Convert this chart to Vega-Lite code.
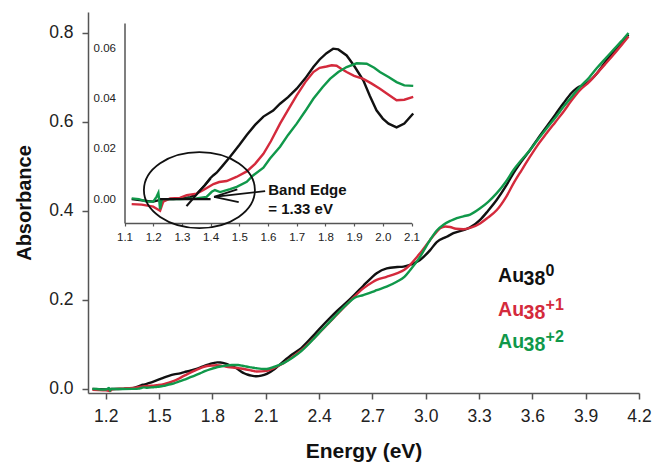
{
  "$schema": "https://vega.github.io/schema/vega-lite/v6.json",
  "width": 551,
  "height": 381,
  "autosize": {"type": "none"},
  "padding": {"left": 88, "top": 12, "right": 13, "bottom": 73},
  "background": "white",
  "config": {"view": {"stroke": null}, "font": "Liberation Sans"},
  "datasets": {
    "one": [{}],
    "spectra": [
      {"series":"0","energy":1.125,"absorbance":0.0},
      {"series":"0","energy":1.16,"absorbance":-0.0005},
      {"series":"0","energy":1.2,"absorbance":-0.001},
      {"series":"0","energy":1.235,"absorbance":0.0},
      {"series":"0","energy":1.27,"absorbance":0.0},
      {"series":"0","energy":1.3,"absorbance":0.0003},
      {"series":"0","energy":1.33,"absorbance":0.0008},
      {"series":"0","energy":1.351,"absorbance":0.002},
      {"series":"0","energy":1.38,"absorbance":0.0055},
      {"series":"0","energy":1.398,"absorbance":0.0082},
      {"series":"0","energy":1.41,"absorbance":0.0095},
      {"series":"0","energy":1.421,"absorbance":0.0105},
      {"series":"0","energy":1.44,"absorbance":0.013},
      {"series":"0","energy":1.468,"absorbance":0.0168},
      {"series":"0","energy":1.5,"absorbance":0.0215},
      {"series":"0","energy":1.526,"absorbance":0.0255},
      {"series":"0","energy":1.555,"absorbance":0.0295},
      {"series":"0","energy":1.584,"absorbance":0.0328},
      {"series":"0","energy":1.618,"absorbance":0.0352},
      {"series":"0","energy":1.642,"absorbance":0.0379},
      {"series":"0","energy":1.67,"absorbance":0.0405},
      {"series":"0","energy":1.7,"absorbance":0.0439},
      {"series":"0","energy":1.73,"absorbance":0.048},
      {"series":"0","energy":1.758,"absorbance":0.0525},
      {"series":"0","energy":1.78,"absorbance":0.0555},
      {"series":"0","energy":1.804,"absorbance":0.058},
      {"series":"0","energy":1.827,"absorbance":0.0598},
      {"series":"0","energy":1.845,"absorbance":0.0595},
      {"series":"0","energy":1.874,"absorbance":0.0571},
      {"series":"0","energy":1.9,"absorbance":0.053},
      {"series":"0","energy":1.932,"absorbance":0.0472},
      {"series":"0","energy":1.955,"absorbance":0.041},
      {"series":"0","energy":1.978,"absorbance":0.0353},
      {"series":"0","energy":2.0,"absorbance":0.032},
      {"series":"0","energy":2.02,"absorbance":0.03},
      {"series":"0","energy":2.048,"absorbance":0.0285},
      {"series":"0","energy":2.075,"absorbance":0.03},
      {"series":"0","energy":2.106,"absorbance":0.034},
      {"series":"0","energy":2.15,"absorbance":0.045},
      {"series":"0","energy":2.2,"absorbance":0.062},
      {"series":"0","energy":2.25,"absorbance":0.078},
      {"series":"0","energy":2.3,"absorbance":0.092},
      {"series":"0","energy":2.368,"absorbance":0.12},
      {"series":"0","energy":2.4,"absorbance":0.134},
      {"series":"0","energy":2.462,"absorbance":0.16},
      {"series":"0","energy":2.5,"absorbance":0.175},
      {"series":"0","energy":2.556,"absorbance":0.195},
      {"series":"0","energy":2.6,"absorbance":0.212},
      {"series":"0","energy":2.649,"absorbance":0.232},
      {"series":"0","energy":2.7,"absorbance":0.252},
      {"series":"0","energy":2.724,"absorbance":0.26},
      {"series":"0","energy":2.781,"absorbance":0.271},
      {"series":"0","energy":2.84,"absorbance":0.274},
      {"series":"0","energy":2.875,"absorbance":0.275},
      {"series":"0","energy":2.912,"absorbance":0.279},
      {"series":"0","energy":2.968,"absorbance":0.29},
      {"series":"0","energy":3.025,"absorbance":0.312},
      {"series":"0","energy":3.062,"absorbance":0.33},
      {"series":"0","energy":3.118,"absorbance":0.342},
      {"series":"0","energy":3.156,"absorbance":0.35},
      {"series":"0","energy":3.212,"absorbance":0.357},
      {"series":"0","energy":3.25,"absorbance":0.363},
      {"series":"0","energy":3.306,"absorbance":0.38},
      {"series":"0","energy":3.35,"absorbance":0.4},
      {"series":"0","energy":3.4,"absorbance":0.425},
      {"series":"0","energy":3.45,"absorbance":0.455},
      {"series":"0","energy":3.494,"absorbance":0.485},
      {"series":"0","energy":3.54,"absorbance":0.512},
      {"series":"0","energy":3.587,"absorbance":0.537},
      {"series":"0","energy":3.63,"absorbance":0.562},
      {"series":"0","energy":3.681,"absorbance":0.59},
      {"series":"0","energy":3.73,"absorbance":0.617},
      {"series":"0","energy":3.775,"absorbance":0.642},
      {"series":"0","energy":3.82,"absorbance":0.665},
      {"series":"0","energy":3.85,"absorbance":0.676},
      {"series":"0","energy":3.906,"absorbance":0.687},
      {"series":"0","energy":3.963,"absorbance":0.709},
      {"series":"0","energy":4.019,"absorbance":0.739},
      {"series":"0","energy":4.075,"absorbance":0.766},
      {"series":"0","energy":4.141,"absorbance":0.796},

      {"series":"+1","energy":1.125,"absorbance":-0.002},
      {"series":"+1","energy":1.16,"absorbance":-0.0022},
      {"series":"+1","energy":1.2,"absorbance":-0.003},
      {"series":"+1","energy":1.215,"absorbance":-0.004},
      {"series":"+1","energy":1.224,"absorbance":-0.0046},
      {"series":"+1","energy":1.235,"absorbance":-0.001},
      {"series":"+1","energy":1.259,"absorbance":0.0003},
      {"series":"+1","energy":1.293,"absorbance":0.0005},
      {"series":"+1","energy":1.317,"absorbance":0.0016},
      {"series":"+1","energy":1.351,"absorbance":0.0022},
      {"series":"+1","energy":1.375,"absorbance":0.0036},
      {"series":"+1","energy":1.41,"absorbance":0.006},
      {"series":"+1","energy":1.43,"absorbance":0.0068},
      {"series":"+1","energy":1.456,"absorbance":0.0072},
      {"series":"+1","energy":1.49,"absorbance":0.0088},
      {"series":"+1","energy":1.526,"absorbance":0.011},
      {"series":"+1","energy":1.555,"absorbance":0.014},
      {"series":"+1","energy":1.584,"absorbance":0.018},
      {"series":"+1","energy":1.61,"absorbance":0.023},
      {"series":"+1","energy":1.642,"absorbance":0.03},
      {"series":"+1","energy":1.67,"absorbance":0.0355},
      {"series":"+1","energy":1.7,"absorbance":0.0412},
      {"series":"+1","energy":1.73,"absorbance":0.0465},
      {"series":"+1","energy":1.758,"absorbance":0.0505},
      {"series":"+1","energy":1.78,"absorbance":0.0522},
      {"series":"+1","energy":1.804,"absorbance":0.0527},
      {"series":"+1","energy":1.822,"absorbance":0.0532},
      {"series":"+1","energy":1.839,"absorbance":0.053},
      {"series":"+1","energy":1.855,"absorbance":0.0518},
      {"series":"+1","energy":1.874,"absorbance":0.0505},
      {"series":"+1","energy":1.9,"absorbance":0.049},
      {"series":"+1","energy":1.932,"absorbance":0.0478},
      {"series":"+1","energy":1.96,"absorbance":0.046},
      {"series":"+1","energy":1.99,"absorbance":0.0439},
      {"series":"+1","energy":2.02,"absorbance":0.0415},
      {"series":"+1","energy":2.048,"absorbance":0.0393},
      {"series":"+1","energy":2.075,"absorbance":0.0395},
      {"series":"+1","energy":2.106,"absorbance":0.0406},
      {"series":"+1","energy":2.15,"absorbance":0.048},
      {"series":"+1","energy":2.2,"absorbance":0.058},
      {"series":"+1","energy":2.25,"absorbance":0.072},
      {"series":"+1","energy":2.3,"absorbance":0.087},
      {"series":"+1","energy":2.368,"absorbance":0.113},
      {"series":"+1","energy":2.4,"absorbance":0.126},
      {"series":"+1","energy":2.462,"absorbance":0.151},
      {"series":"+1","energy":2.5,"absorbance":0.167},
      {"series":"+1","energy":2.556,"absorbance":0.19},
      {"series":"+1","energy":2.6,"absorbance":0.208},
      {"series":"+1","energy":2.649,"absorbance":0.226},
      {"series":"+1","energy":2.7,"absorbance":0.24},
      {"series":"+1","energy":2.724,"absorbance":0.245},
      {"series":"+1","energy":2.78,"absorbance":0.252},
      {"series":"+1","energy":2.837,"absorbance":0.26},
      {"series":"+1","energy":2.88,"absorbance":0.268},
      {"series":"+1","energy":2.912,"absorbance":0.279},
      {"series":"+1","energy":2.968,"absorbance":0.305},
      {"series":"+1","energy":3.025,"absorbance":0.335},
      {"series":"+1","energy":3.06,"absorbance":0.352},
      {"series":"+1","energy":3.081,"absorbance":0.361},
      {"series":"+1","energy":3.11,"absorbance":0.365},
      {"series":"+1","energy":3.137,"absorbance":0.364},
      {"series":"+1","energy":3.17,"absorbance":0.36},
      {"series":"+1","energy":3.212,"absorbance":0.359},
      {"series":"+1","energy":3.25,"absorbance":0.362},
      {"series":"+1","energy":3.306,"absorbance":0.372},
      {"series":"+1","energy":3.35,"absorbance":0.385},
      {"series":"+1","energy":3.4,"absorbance":0.402},
      {"series":"+1","energy":3.45,"absorbance":0.43},
      {"series":"+1","energy":3.494,"absorbance":0.462},
      {"series":"+1","energy":3.54,"absorbance":0.492},
      {"series":"+1","energy":3.587,"absorbance":0.522},
      {"series":"+1","energy":3.63,"absorbance":0.548},
      {"series":"+1","energy":3.681,"absorbance":0.575},
      {"series":"+1","energy":3.73,"absorbance":0.6},
      {"series":"+1","energy":3.775,"absorbance":0.623},
      {"series":"+1","energy":3.82,"absorbance":0.648},
      {"series":"+1","energy":3.869,"absorbance":0.672},
      {"series":"+1","energy":3.92,"absorbance":0.69},
      {"series":"+1","energy":3.963,"absorbance":0.709},
      {"series":"+1","energy":4.01,"absorbance":0.73},
      {"series":"+1","energy":4.056,"absorbance":0.751},
      {"series":"+1","energy":4.1,"absorbance":0.772},
      {"series":"+1","energy":4.141,"absorbance":0.792},

      {"series":"+2","energy":1.125,"absorbance":0.0003},
      {"series":"+2","energy":1.15,"absorbance":0.0},
      {"series":"+2","energy":1.177,"absorbance":-0.001},
      {"series":"+2","energy":1.2,"absorbance":-0.001},
      {"series":"+2","energy":1.212,"absorbance":0.001},
      {"series":"+2","energy":1.218,"absorbance":0.0025},
      {"series":"+2","energy":1.221,"absorbance":-0.0005},
      {"series":"+2","energy":1.224,"absorbance":-0.004},
      {"series":"+2","energy":1.23,"absorbance":0.0},
      {"series":"+2","energy":1.26,"absorbance":0.0},
      {"series":"+2","energy":1.293,"absorbance":0.0},
      {"series":"+2","energy":1.35,"absorbance":0.0003},
      {"series":"+2","energy":1.386,"absorbance":0.0009},
      {"series":"+2","energy":1.404,"absorbance":0.0029},
      {"series":"+2","energy":1.415,"absorbance":0.0036},
      {"series":"+2","energy":1.433,"absorbance":0.0028},
      {"series":"+2","energy":1.468,"absorbance":0.004},
      {"series":"+2","energy":1.491,"absorbance":0.0049},
      {"series":"+2","energy":1.526,"absorbance":0.0069},
      {"series":"+2","energy":1.549,"absorbance":0.0095},
      {"series":"+2","energy":1.584,"absorbance":0.0125},
      {"series":"+2","energy":1.607,"absorbance":0.0161},
      {"series":"+2","energy":1.642,"absorbance":0.0208},
      {"series":"+2","energy":1.67,"absorbance":0.0255},
      {"series":"+2","energy":1.7,"absorbance":0.03},
      {"series":"+2","energy":1.73,"absorbance":0.035},
      {"series":"+2","energy":1.758,"absorbance":0.0399},
      {"series":"+2","energy":1.79,"absorbance":0.0445},
      {"series":"+2","energy":1.816,"absorbance":0.0478},
      {"series":"+2","energy":1.845,"absorbance":0.0505},
      {"series":"+2","energy":1.874,"absorbance":0.0525},
      {"series":"+2","energy":1.909,"absorbance":0.054},
      {"series":"+2","energy":1.944,"absorbance":0.0538},
      {"series":"+2","energy":1.97,"absorbance":0.0522},
      {"series":"+2","energy":1.99,"absorbance":0.0505},
      {"series":"+2","energy":2.02,"absorbance":0.0485},
      {"series":"+2","energy":2.048,"absorbance":0.0465},
      {"series":"+2","energy":2.075,"absorbance":0.0452},
      {"series":"+2","energy":2.106,"absorbance":0.045},
      {"series":"+2","energy":2.15,"absorbance":0.05},
      {"series":"+2","energy":2.2,"absorbance":0.058},
      {"series":"+2","energy":2.25,"absorbance":0.07},
      {"series":"+2","energy":2.3,"absorbance":0.085},
      {"series":"+2","energy":2.368,"absorbance":0.112},
      {"series":"+2","energy":2.4,"absorbance":0.126},
      {"series":"+2","energy":2.462,"absorbance":0.152},
      {"series":"+2","energy":2.5,"absorbance":0.168},
      {"series":"+2","energy":2.556,"absorbance":0.19},
      {"series":"+2","energy":2.6,"absorbance":0.205},
      {"series":"+2","energy":2.649,"absorbance":0.211},
      {"series":"+2","energy":2.7,"absorbance":0.218},
      {"series":"+2","energy":2.724,"absorbance":0.222},
      {"series":"+2","energy":2.78,"absorbance":0.23},
      {"series":"+2","energy":2.837,"absorbance":0.241},
      {"series":"+2","energy":2.88,"absorbance":0.252},
      {"series":"+2","energy":2.912,"absorbance":0.267},
      {"series":"+2","energy":2.968,"absorbance":0.297},
      {"series":"+2","energy":3.025,"absorbance":0.335},
      {"series":"+2","energy":3.06,"absorbance":0.355},
      {"series":"+2","energy":3.1,"absorbance":0.369},
      {"series":"+2","energy":3.14,"absorbance":0.378},
      {"series":"+2","energy":3.175,"absorbance":0.384},
      {"series":"+2","energy":3.212,"absorbance":0.388},
      {"series":"+2","energy":3.25,"absorbance":0.392},
      {"series":"+2","energy":3.306,"absorbance":0.406},
      {"series":"+2","energy":3.35,"absorbance":0.42},
      {"series":"+2","energy":3.4,"absorbance":0.44},
      {"series":"+2","energy":3.45,"absorbance":0.465},
      {"series":"+2","energy":3.494,"absorbance":0.492},
      {"series":"+2","energy":3.54,"absorbance":0.515},
      {"series":"+2","energy":3.587,"absorbance":0.537},
      {"series":"+2","energy":3.63,"absorbance":0.56},
      {"series":"+2","energy":3.681,"absorbance":0.586},
      {"series":"+2","energy":3.73,"absorbance":0.61},
      {"series":"+2","energy":3.775,"absorbance":0.634},
      {"series":"+2","energy":3.82,"absorbance":0.656},
      {"series":"+2","energy":3.869,"absorbance":0.679},
      {"series":"+2","energy":3.92,"absorbance":0.7},
      {"series":"+2","energy":3.963,"absorbance":0.721},
      {"series":"+2","energy":4.01,"absorbance":0.742},
      {"series":"+2","energy":4.056,"absorbance":0.762},
      {"series":"+2","energy":4.1,"absorbance":0.781},
      {"series":"+2","energy":4.141,"absorbance":0.8}
    ]
  },
  "layer": [
    {
      "layer": [
        {
          "data": {"name": "spectra"},
          "mark": {"type": "line", "strokeWidth": 2.4, "interpolate": "monotone"},
          "encoding": {
            "x": {"field": "energy", "type": "quantitative",
              "scale": {"domain": [1.1, 4.2], "nice": false, "zero": false},
              "axis": {"orient": "bottom", "values": [1.2,1.5,1.8,2.1,2.4,2.7,3.0,3.3,3.6,3.9,4.2], "format": ".1f",
                "grid": false, "labelFontSize": 17.5, "labelColor": "#222", "tickSize": 6, "tickWidth": 1.5, "tickColor": "#555",
                "domainColor": "#555", "domainWidth": 1.5, "labelPadding": 8, "labelFlush": false,
                "title": "Energy (eV)", "titleFontSize": 21, "titleFontWeight": "bold", "titleColor": "#111", "titlePadding": 16}},
            "y": {"field": "absorbance", "type": "quantitative",
              "scale": {"domain": [-0.009, 0.847], "nice": false, "zero": false},
              "axis": {"orient": "left", "values": [0, 0.2, 0.4, 0.6, 0.8], "format": ".1f",
                "grid": false, "labelFontSize": 17.5, "labelColor": "#222", "tickSize": 6, "tickWidth": 1.5, "tickColor": "#555",
                "domainColor": "#555", "domainWidth": 1.5, "labelPadding": 9, "labelFlush": false,
                "title": "Absorbance", "titleFontSize": 20, "titleFontWeight": "bold", "titleColor": "#111", "titlePadding": 14}},
            "color": {"field": "series", "type": "nominal", "legend": null,
              "scale": {"domain": ["0", "+1", "+2"], "range": ["#111111", "#d42a3c", "#10984a"]}},
            "detail": {"field": "series"}
          }
        },
        {"data": {"name": "one"}, "mark": {"type": "text", "align": "left", "baseline": "alphabetic", "fontSize": 19.5, "fontWeight": "bold", "color": "#111111", "text": "Au"},
         "encoding": {"x": {"datum": 3.407, "type": "quantitative"}, "y": {"datum": 0.2404, "type": "quantitative"}}},
        {"data": {"name": "one"}, "mark": {"type": "text", "align": "left", "baseline": "alphabetic", "fontSize": 19.5, "fontWeight": "bold", "color": "#111111", "text": "38", "dx": 25.5, "dy": 3},
         "encoding": {"x": {"datum": 3.407, "type": "quantitative"}, "y": {"datum": 0.2404, "type": "quantitative"}}},
        {"data": {"name": "one"}, "mark": {"type": "text", "align": "left", "baseline": "alphabetic", "fontSize": 16, "fontWeight": "bold", "color": "#111111", "text": "0", "dx": 47.5, "dy": -6},
         "encoding": {"x": {"datum": 3.407, "type": "quantitative"}, "y": {"datum": 0.2404, "type": "quantitative"}}},
        {"data": {"name": "one"}, "mark": {"type": "text", "align": "left", "baseline": "alphabetic", "fontSize": 19.5, "fontWeight": "bold", "color": "#d42a3c", "text": "Au"},
         "encoding": {"x": {"datum": 3.407, "type": "quantitative"}, "y": {"datum": 0.1647, "type": "quantitative"}}},
        {"data": {"name": "one"}, "mark": {"type": "text", "align": "left", "baseline": "alphabetic", "fontSize": 19.5, "fontWeight": "bold", "color": "#d42a3c", "text": "38", "dx": 25.5, "dy": 3},
         "encoding": {"x": {"datum": 3.407, "type": "quantitative"}, "y": {"datum": 0.1647, "type": "quantitative"}}},
        {"data": {"name": "one"}, "mark": {"type": "text", "align": "left", "baseline": "alphabetic", "fontSize": 16, "fontWeight": "bold", "color": "#d42a3c", "text": "+1", "dx": 47.5, "dy": -6},
         "encoding": {"x": {"datum": 3.407, "type": "quantitative"}, "y": {"datum": 0.1647, "type": "quantitative"}}},
        {"data": {"name": "one"}, "mark": {"type": "text", "align": "left", "baseline": "alphabetic", "fontSize": 19.5, "fontWeight": "bold", "color": "#10984a", "text": "Au"},
         "encoding": {"x": {"datum": 3.407, "type": "quantitative"}, "y": {"datum": 0.0921, "type": "quantitative"}}},
        {"data": {"name": "one"}, "mark": {"type": "text", "align": "left", "baseline": "alphabetic", "fontSize": 19.5, "fontWeight": "bold", "color": "#10984a", "text": "38", "dx": 25.5, "dy": 3},
         "encoding": {"x": {"datum": 3.407, "type": "quantitative"}, "y": {"datum": 0.0921, "type": "quantitative"}}},
        {"data": {"name": "one"}, "mark": {"type": "text", "align": "left", "baseline": "alphabetic", "fontSize": 16, "fontWeight": "bold", "color": "#10984a", "text": "+2", "dx": 47.5, "dy": -6},
         "encoding": {"x": {"datum": 3.407, "type": "quantitative"}, "y": {"datum": 0.0921, "type": "quantitative"}}}
      ]
    },
    {
      "layer": [
        {
          "data": {"name": "spectra"},
          "transform": [{"filter": "datum.energy <= 2.11"}],
          "mark": {"type": "line", "strokeWidth": 2.4},
          "encoding": {
            "x": {"field": "energy", "type": "quantitative",
              "scale": {"domain": [1.1, 2.1], "range": [36.5, 323.5], "nice": false, "zero": false},
              "axis": {"orient": "bottom", "offset": -170, "values": [1.1,1.2,1.3,1.4,1.5,1.6,1.7,1.8,1.9,2.0,2.1], "format": ".1f",
                "grid": false, "labelFontSize": 11.5, "labelColor": "#222", "tickSize": 3, "tickWidth": 1.2, "tickColor": "#555",
                "domainColor": "#555", "domainWidth": 1.5, "labelPadding": 5, "labelFlush": false, "title": null}},
            "y": {"field": "absorbance", "type": "quantitative",
              "scale": {"domain": [-0.0095, 0.07], "range": [211, 11], "nice": false, "zero": false},
              "axis": {"orient": "left", "offset": -36.5, "values": [0, 0.02, 0.04, 0.06], "format": ".2f",
                "grid": false, "labelFontSize": 11.5, "labelColor": "#222", "tickSize": 0, "ticks": false,
                "domainColor": "#555", "domainWidth": 1.5, "labelPadding": 9, "labelFlush": false, "title": null}},
            "color": {"field": "series", "type": "nominal", "legend": null,
              "scale": {"domain": ["0", "+1", "+2"], "range": ["#111111", "#d42a3c", "#10984a"]}},
            "detail": {"field": "series"}
          }
        },
        {"data": {"name": "one"}, "mark": {"type": "rule", "color": "#111", "strokeWidth": 2.4},
         "encoding": {"x": {"datum": 1.224, "type": "quantitative"}, "x2": {"datum": 1.40}, "y": {"datum": 0.0, "type": "quantitative"}, "y2": {"datum": 0.0}}},
        {"data": {"name": "one"}, "mark": {"type": "rule", "color": "#111", "strokeWidth": 2.2},
         "encoding": {"x": {"datum": 1.316, "type": "quantitative"}, "x2": {"datum": 1.40}, "y": {"datum": -0.0028, "type": "quantitative"}, "y2": {"datum": 0.0082}}},
        {"data": {"name": "one"}, "mark": {"type": "rule", "color": "#111", "strokeWidth": 1.8},
         "encoding": {"x": {"datum": 1.59, "type": "quantitative"}, "x2": {"datum": 1.412}, "y": {"datum": 0.0032, "type": "quantitative"}, "y2": {"datum": 0.0009}}},
        {"data": {"name": "one"}, "mark": {"type": "rule", "color": "#111", "strokeWidth": 1.8},
         "encoding": {"x": {"datum": 1.412, "type": "quantitative"}, "x2": {"datum": 1.493}, "y": {"datum": 0.0009, "type": "quantitative"}, "y2": {"datum": 0.0039}}},
        {"data": {"name": "one"}, "mark": {"type": "rule", "color": "#111", "strokeWidth": 1.8},
         "encoding": {"x": {"datum": 1.412, "type": "quantitative"}, "x2": {"datum": 1.498}, "y": {"datum": 0.0009, "type": "quantitative"}, "y2": {"datum": -0.0012}}},
        {"data": {"name": "one"}, "mark": {"type": "point", "filled": false, "stroke": "#111", "strokeWidth": 1.8, "opacity": 1,
           "shape": "M -1 0 A 1 0.685 0 1 1 1 0 A 1 0.685 0 1 1 -1 0 Z", "size": 12321},
         "encoding": {"x": {"datum": 1.361, "type": "quantitative"}, "y": {"datum": 0.0036, "type": "quantitative"}}},
        {"data": {"name": "one"}, "mark": {"type": "text", "align": "left", "baseline": "middle", "fontSize": 15, "fontWeight": "bold", "color": "#111", "text": "Band Edge"},
         "encoding": {"x": {"datum": 1.601, "type": "quantitative"}, "y": {"datum": 0.0036, "type": "quantitative"}}},
        {"data": {"name": "one"}, "mark": {"type": "text", "align": "left", "baseline": "middle", "fontSize": 15, "fontWeight": "bold", "color": "#111", "text": "= 1.33 eV"},
         "encoding": {"x": {"datum": 1.601, "type": "quantitative"}, "y": {"datum": -0.0041, "type": "quantitative"}}}
      ]
    }
  ],
  "resolve": {"scale": {"x": "independent", "y": "independent"}}
}
